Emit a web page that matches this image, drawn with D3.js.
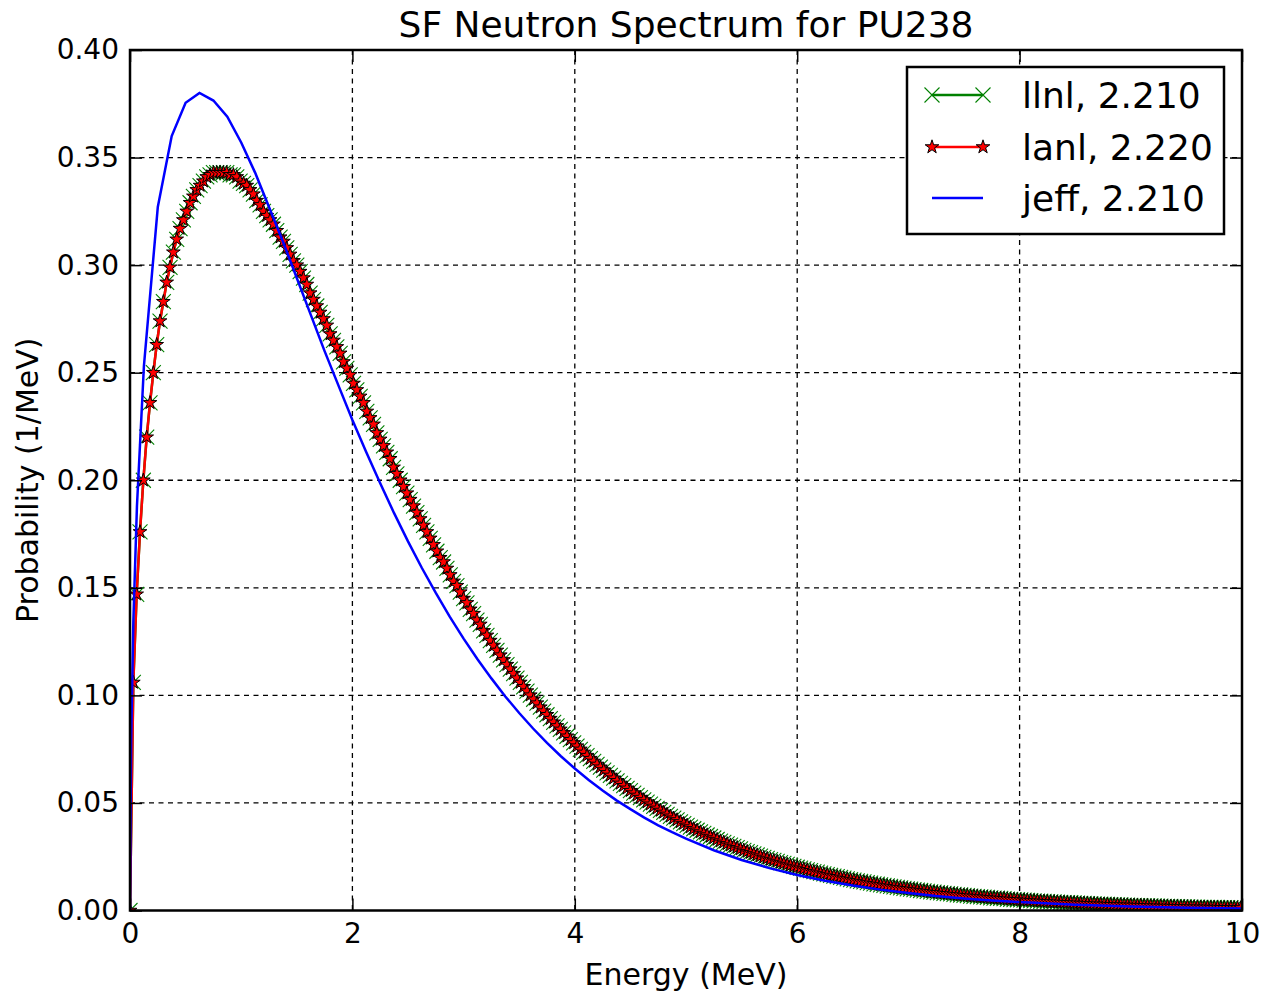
<!DOCTYPE html>
<html>
<head>
<meta charset="utf-8">
<script src="https://cdn.jsdelivr.net/npm/d3@7"></script>
<style>
  body { margin: 0; background: #fff; }
  text { font-family: "DejaVu Sans", sans-serif; }
</style>
</head>
<body>
<div id="chart"></div>
<script>
// energy grid of the llnl / lanl spectra (MeV)
var energy = [
  0, 0.03, 0.06, 0.09, 0.12, 0.15, 0.18, 0.21, 0.24, 0.27,
  0.3, 0.33, 0.36, 0.39, 0.42, 0.45, 0.48, 0.51, 0.54, 0.57,
  0.6, 0.63, 0.66, 0.69, 0.72, 0.75, 0.78, 0.81, 0.84, 0.87,
  0.9, 0.93, 0.96, 0.99, 1.02, 1.05, 1.08, 1.11, 1.14, 1.17,
  1.2, 1.23, 1.26, 1.29, 1.32, 1.35, 1.38, 1.41, 1.44, 1.47,
  1.5, 1.53, 1.56, 1.59, 1.62, 1.65, 1.68, 1.71, 1.74, 1.77,
  1.8, 1.83, 1.86, 1.89, 1.92, 1.95, 1.98, 2.01, 2.04, 2.07,
  2.1, 2.13, 2.16, 2.19, 2.22, 2.25, 2.28, 2.31, 2.34, 2.37,
  2.4, 2.43, 2.46, 2.49, 2.52, 2.55, 2.58, 2.61, 2.64, 2.67,
  2.7, 2.73, 2.76, 2.79, 2.82, 2.85, 2.88, 2.91, 2.94, 2.97,
  3, 3.03, 3.06, 3.09, 3.12, 3.15, 3.18, 3.21, 3.24, 3.27,
  3.3, 3.33, 3.36, 3.39, 3.42, 3.45, 3.48, 3.51, 3.54, 3.57,
  3.6, 3.63, 3.66, 3.69, 3.72, 3.75, 3.78, 3.81, 3.84, 3.87,
  3.9, 3.93, 3.96, 3.99, 4.02, 4.05, 4.08, 4.11, 4.14, 4.17,
  4.2, 4.23, 4.26, 4.29, 4.32, 4.35, 4.38, 4.41, 4.44, 4.47,
  4.5, 4.53, 4.56, 4.59, 4.62, 4.65, 4.68, 4.71, 4.74, 4.77,
  4.8, 4.83, 4.86, 4.89, 4.92, 4.95, 4.98, 5.01, 5.04, 5.07,
  5.1, 5.13, 5.16, 5.19, 5.22, 5.25, 5.28, 5.31, 5.34, 5.37,
  5.4, 5.43, 5.46, 5.49, 5.52, 5.55, 5.58, 5.61, 5.64, 5.67,
  5.7, 5.73, 5.76, 5.79, 5.82, 5.85, 5.88, 5.91, 5.94, 5.97,
  6, 6.03, 6.06, 6.09, 6.12, 6.15, 6.18, 6.21, 6.24, 6.27,
  6.3, 6.33, 6.36, 6.39, 6.42, 6.45, 6.48, 6.51, 6.54, 6.57,
  6.6, 6.63, 6.66, 6.69, 6.72, 6.75, 6.78, 6.81, 6.84, 6.87,
  6.9, 6.93, 6.96, 6.99, 7.02, 7.05, 7.08, 7.11, 7.14, 7.17,
  7.2, 7.23, 7.26, 7.29, 7.32, 7.35, 7.38, 7.41, 7.44, 7.47,
  7.5, 7.53, 7.56, 7.59, 7.62, 7.65, 7.68, 7.71, 7.74, 7.77,
  7.8, 7.83, 7.86, 7.89, 7.92, 7.95, 7.98, 8.01, 8.04, 8.07,
  8.1, 8.13, 8.16, 8.19, 8.22, 8.25, 8.28, 8.31, 8.34, 8.37,
  8.4, 8.43, 8.46, 8.49, 8.52, 8.55, 8.58, 8.61, 8.64, 8.67,
  8.7, 8.73, 8.76, 8.79, 8.82, 8.85, 8.88, 8.91, 8.94, 8.97,
  9, 9.03, 9.06, 9.09, 9.12, 9.15, 9.18, 9.21, 9.24, 9.27,
  9.3, 9.33, 9.36, 9.39, 9.42, 9.45, 9.48, 9.51, 9.54, 9.57,
  9.6, 9.63, 9.66, 9.69, 9.72, 9.75, 9.78, 9.81, 9.84, 9.87,
  9.9, 9.93, 9.96, 9.99
];

// llnl spectrum, probability (1/MeV)
var llnl = [
  0, 0.106, 0.147, 0.176, 0.200, 0.220, 0.236, 0.250, 0.263, 0.274,
  0.283, 0.292, 0.299, 0.306, 0.312, 0.317, 0.321, 0.325, 0.329, 0.332,
  0.335, 0.337, 0.339, 0.341, 0.342, 0.343, 0.343, 0.343, 0.343, 0.343,
  0.342, 0.342, 0.341, 0.339, 0.338, 0.337, 0.335, 0.333, 0.330, 0.328,
  0.325, 0.323, 0.321, 0.319, 0.316, 0.313, 0.311, 0.308, 0.305, 0.302,
  0.300, 0.297, 0.294, 0.291, 0.287, 0.284, 0.281, 0.278, 0.275, 0.272,
  0.268, 0.265, 0.262, 0.259, 0.255, 0.252, 0.249, 0.245, 0.242, 0.239,
  0.236, 0.232, 0.229, 0.226, 0.222, 0.219, 0.216, 0.213, 0.210, 0.206,
  0.203, 0.200, 0.197, 0.194, 0.191, 0.188, 0.185, 0.182, 0.179, 0.176,
  0.173, 0.170, 0.167, 0.164, 0.162, 0.159, 0.156, 0.153, 0.151, 0.148,
  0.145, 0.143, 0.140, 0.138, 0.135, 0.133, 0.130, 0.1279, 0.1255, 0.1232,
  0.1209, 0.1187, 0.1165, 0.1143, 0.1122, 0.1101, 0.1080, 0.1060, 0.1040, 0.1020,
  0.1001, 0.0982, 0.0964, 0.0945, 0.0927, 0.0910, 0.0892, 0.0875, 0.0858, 0.0842,
  0.0826, 0.0810, 0.0794, 0.0779, 0.0764, 0.0749, 0.0735, 0.0720, 0.0706, 0.0693,
  0.0679, 0.0666, 0.0653, 0.0640, 0.0628, 0.0615, 0.0603, 0.0591, 0.0580, 0.0568,
  0.0557, 0.0546, 0.0535, 0.0525, 0.0514, 0.0504, 0.0494, 0.0484, 0.0475, 0.0465,
  0.0456, 0.0447, 0.0438, 0.0429, 0.0421, 0.0412, 0.0404, 0.0396, 0.0388, 0.0380,
  0.0373, 0.0365, 0.0358, 0.0351, 0.0344, 0.0337, 0.0330, 0.0323, 0.0317, 0.0310,
  0.0304, 0.0298, 0.0292, 0.0286, 0.0280, 0.0274, 0.0269, 0.0263, 0.0258, 0.0253,
  0.0247, 0.0242, 0.0237, 0.0233, 0.0228, 0.0223, 0.0219, 0.0214, 0.0210, 0.0205,
  0.0201, 0.0197, 0.0193, 0.0189, 0.0185, 0.0181, 0.0178, 0.0174, 0.0170, 0.0167,
  0.0163, 0.0160, 0.0157, 0.0154, 0.0150, 0.0147, 0.0144, 0.0141, 0.0138, 0.0135,
  0.0133, 0.0130, 0.0127, 0.0124, 0.0122, 0.0119, 0.0117, 0.0114, 0.0112, 0.0110,
  0.0107, 0.0105, 0.0103, 0.0101, 0.0099, 0.0097, 0.0095, 0.0093, 0.0091, 0.0089,
  0.0087, 0.0085, 0.0083, 0.0082, 0.0080, 0.0078, 0.0077, 0.0075, 0.0073, 0.0072,
  0.0070, 0.0069, 0.0067, 0.0066, 0.0065, 0.0063, 0.0062, 0.0061, 0.0059, 0.0058,
  0.0057, 0.0056, 0.0055, 0.0053, 0.0052, 0.0051, 0.0050, 0.0049, 0.0048, 0.0047,
  0.0046, 0.0045, 0.0044, 0.0043, 0.0042, 0.0041, 0.0040, 0.0040, 0.0039, 0.0038,
  0.0037, 0.0036, 0.0036, 0.0035, 0.0034, 0.0033, 0.0033, 0.0032, 0.0031, 0.0031,
  0.0030, 0.0029, 0.0029, 0.0028, 0.0027, 0.0027, 0.0026, 0.0026, 0.0025, 0.0025,
  0.0024, 0.0024, 0.0023, 0.0023, 0.0022, 0.0022, 0.0021, 0.0021, 0.0020, 0.0020,
  0.0019, 0.0019, 0.0019, 0.0018, 0.0018, 0.0017, 0.0017, 0.0017, 0.0016, 0.0016,
  0.0016, 0.0015, 0.0015, 0.0015, 0.0014, 0.0014, 0.0014, 0.0013, 0.0013, 0.0013,
  0.0013, 0.0012, 0.0012, 0.0012
];

// lanl spectrum, probability (1/MeV) - lies on top of llnl in the picture
var lanl = [
  0, 0.106, 0.147, 0.176, 0.200, 0.220, 0.236, 0.250, 0.263, 0.274,
  0.283, 0.292, 0.299, 0.306, 0.312, 0.317, 0.321, 0.325, 0.329, 0.332,
  0.335, 0.337, 0.339, 0.341, 0.342, 0.343, 0.343, 0.343, 0.343, 0.343,
  0.342, 0.342, 0.341, 0.339, 0.338, 0.337, 0.335, 0.333, 0.330, 0.328,
  0.325, 0.323, 0.321, 0.319, 0.316, 0.313, 0.311, 0.308, 0.305, 0.302,
  0.300, 0.297, 0.294, 0.291, 0.287, 0.284, 0.281, 0.278, 0.275, 0.272,
  0.268, 0.265, 0.262, 0.259, 0.255, 0.252, 0.249, 0.245, 0.242, 0.239,
  0.236, 0.232, 0.229, 0.226, 0.222, 0.219, 0.216, 0.213, 0.210, 0.206,
  0.203, 0.200, 0.197, 0.194, 0.191, 0.188, 0.185, 0.182, 0.179, 0.176,
  0.173, 0.170, 0.167, 0.164, 0.162, 0.159, 0.156, 0.153, 0.151, 0.148,
  0.145, 0.143, 0.140, 0.138, 0.135, 0.133, 0.130, 0.1279, 0.1255, 0.1232,
  0.1209, 0.1187, 0.1165, 0.1143, 0.1122, 0.1101, 0.1080, 0.1060, 0.1040, 0.1020,
  0.1001, 0.0982, 0.0964, 0.0945, 0.0927, 0.0910, 0.0892, 0.0875, 0.0858, 0.0842,
  0.0826, 0.0810, 0.0794, 0.0779, 0.0764, 0.0749, 0.0735, 0.0720, 0.0706, 0.0693,
  0.0679, 0.0666, 0.0653, 0.0640, 0.0628, 0.0615, 0.0603, 0.0591, 0.0580, 0.0568,
  0.0557, 0.0546, 0.0535, 0.0525, 0.0514, 0.0504, 0.0494, 0.0484, 0.0475, 0.0465,
  0.0456, 0.0447, 0.0438, 0.0429, 0.0421, 0.0412, 0.0404, 0.0396, 0.0388, 0.0380,
  0.0373, 0.0365, 0.0358, 0.0351, 0.0344, 0.0337, 0.0330, 0.0323, 0.0317, 0.0310,
  0.0304, 0.0298, 0.0292, 0.0286, 0.0280, 0.0274, 0.0269, 0.0263, 0.0258, 0.0253,
  0.0247, 0.0242, 0.0237, 0.0233, 0.0228, 0.0223, 0.0219, 0.0214, 0.0210, 0.0205,
  0.0201, 0.0197, 0.0193, 0.0189, 0.0185, 0.0181, 0.0178, 0.0174, 0.0170, 0.0167,
  0.0163, 0.0160, 0.0157, 0.0154, 0.0150, 0.0147, 0.0144, 0.0141, 0.0138, 0.0135,
  0.0133, 0.0130, 0.0127, 0.0124, 0.0122, 0.0119, 0.0117, 0.0114, 0.0112, 0.0110,
  0.0107, 0.0105, 0.0103, 0.0101, 0.0099, 0.0097, 0.0095, 0.0093, 0.0091, 0.0089,
  0.0087, 0.0085, 0.0083, 0.0082, 0.0080, 0.0078, 0.0077, 0.0075, 0.0073, 0.0072,
  0.0070, 0.0069, 0.0067, 0.0066, 0.0065, 0.0063, 0.0062, 0.0061, 0.0059, 0.0058,
  0.0057, 0.0056, 0.0055, 0.0053, 0.0052, 0.0051, 0.0050, 0.0049, 0.0048, 0.0047,
  0.0046, 0.0045, 0.0044, 0.0043, 0.0042, 0.0041, 0.0040, 0.0040, 0.0039, 0.0038,
  0.0037, 0.0036, 0.0036, 0.0035, 0.0034, 0.0033, 0.0033, 0.0032, 0.0031, 0.0031,
  0.0030, 0.0029, 0.0029, 0.0028, 0.0027, 0.0027, 0.0026, 0.0026, 0.0025, 0.0025,
  0.0024, 0.0024, 0.0023, 0.0023, 0.0022, 0.0022, 0.0021, 0.0021, 0.0020, 0.0020,
  0.0019, 0.0019, 0.0019, 0.0018, 0.0018, 0.0017, 0.0017, 0.0017, 0.0016, 0.0016,
  0.0016, 0.0015, 0.0015, 0.0015, 0.0014, 0.0014, 0.0014, 0.0013, 0.0013, 0.0013,
  0.0013, 0.0012, 0.0012, 0.0012
];

// jeff spectrum on its own (coarser) energy grid
var jeffEnergy = [
  0, 0.01, 0.03, 0.0625, 0.125, 0.25, 0.375, 0.5, 0.625, 0.75, 0.875,
  1, 1.125, 1.25, 1.375, 1.5, 1.625, 1.75, 1.875, 2, 2.125, 2.25, 2.375, 2.5, 2.625, 2.75, 2.875,
  3, 3.125, 3.25, 3.375, 3.5, 3.625, 3.75, 3.875, 4, 4.125, 4.25, 4.375, 4.5, 4.625, 4.75, 4.875,
  5, 5.25, 5.5, 5.75, 6, 6.25, 6.5, 6.75, 7, 7.25, 7.5, 7.75, 8, 8.5, 9, 9.5, 10
];
var jeff = [
  0, 0.078, 0.134, 0.188, 0.253, 0.327, 0.360, 0.3755, 0.380, 0.3765, 0.369,
  0.357, 0.343, 0.327, 0.311, 0.294, 0.277, 0.260, 0.244, 0.228, 0.213, 0.1986, 0.1847, 0.1716, 0.1592, 0.1476, 0.1366,
  0.1264, 0.1168, 0.1079, 0.0995, 0.0918, 0.0846, 0.0779, 0.0717, 0.0660, 0.0607, 0.0558, 0.0512, 0.0471, 0.0432, 0.0396, 0.0364,
  0.0334, 0.0280, 0.0235, 0.0197, 0.0165, 0.0138, 0.0116, 0.0097, 0.0081, 0.0067, 0.0056, 0.0047, 0.0039, 0.0027, 0.0019, 0.0013, 0.0009
];

var xTicks = [0, 2, 4, 6, 8, 10];
var yTicks = [0, 0.05, 0.10, 0.15, 0.20, 0.25, 0.30, 0.35, 0.40];
var legendLabels = ["llnl, 2.210", "lanl, 2.220", "jeff, 2.210"];

var W = 1268, H = 993;
var plot = {left: 130, right: 1242, top: 50, bottom: 910.5};

var svg = d3.select("#chart").append("svg")
  .attr("width", W)
  .attr("height", H)
  .style("display", "block");

svg.append("rect").attr("width", W).attr("height", H).attr("fill", "#fff");

var x = d3.scaleLinear().domain([0, 10]).range([plot.left, plot.right]);
var y = d3.scaleLinear().domain([0, 0.4]).range([plot.bottom, plot.top]);

// grid lines
var grid = svg.append("g").attr("class", "grid")
  .attr("stroke", "#000")
  .attr("stroke-width", 1.3)
  .attr("stroke-dasharray", "5,4.5");

grid.selectAll(".vgrid")
  .data(xTicks.slice(1, -1))
  .enter().append("line")
    .attr("x1", function(d) { return x(d); })
    .attr("x2", function(d) { return x(d); })
    .attr("y1", plot.top)
    .attr("y2", plot.bottom);

grid.selectAll(".hgrid")
  .data(yTicks.slice(1, -1))
  .enter().append("line")
    .attr("x1", plot.left)
    .attr("x2", plot.right)
    .attr("y1", function(d) { return y(d); })
    .attr("y2", function(d) { return y(d); });

// clip the data to the axes box
svg.append("clipPath").attr("id", "clip")
  .append("rect")
    .attr("x", plot.left)
    .attr("y", plot.top)
    .attr("width", plot.right - plot.left)
    .attr("height", plot.bottom - plot.top);

var data = svg.append("g").attr("clip-path", "url(#clip)");

var line = d3.line()
  .x(function(d) { return x(d[0]); })
  .y(function(d) { return y(d[1]); });

var llnlPts = d3.zip(energy, llnl);
var lanlPts = d3.zip(energy, lanl);
var jeffPts = d3.zip(jeffEnergy, jeff);

var crossPath = "M-7.5,-7.5L7.5,7.5M-7.5,7.5L7.5,-7.5";
var starPath = d3.symbol().type(d3.symbolStar).size(58)();

// llnl: green line with x markers
data.append("path")
  .datum(llnlPts)
  .attr("d", line)
  .attr("fill", "none")
  .attr("stroke", "#008000")
  .attr("stroke-width", 2.5);

data.append("g").selectAll("path")
  .data(llnlPts)
  .enter().append("path")
    .attr("transform", function(d) { return "translate(" + x(d[0]) + "," + y(d[1]) + ")"; })
    .attr("d", crossPath)
    .attr("fill", "none")
    .attr("stroke", "#008000")
    .attr("stroke-width", 1.1);

// lanl: red line with star markers
data.append("path")
  .datum(lanlPts)
  .attr("d", line)
  .attr("fill", "none")
  .attr("stroke", "#ff0000")
  .attr("stroke-width", 2.5);

data.append("g").selectAll("path")
  .data(lanlPts)
  .enter().append("path")
    .attr("transform", function(d) { return "translate(" + x(d[0]) + "," + y(d[1]) + ")"; })
    .attr("d", starPath)
    .attr("fill", "#ff0000")
    .attr("stroke", "#000")
    .attr("stroke-width", 1);

// jeff: plain blue line
data.append("path")
  .datum(jeffPts)
  .attr("d", line)
  .attr("fill", "none")
  .attr("stroke", "#0000ff")
  .attr("stroke-width", 2.5);

// axes, ticks point inwards on all four sides
var tickLen = 12;

svg.append("g")
  .attr("transform", "translate(0," + plot.bottom + ")")
  .call(d3.axisBottom(x).tickValues(xTicks).tickFormat(d3.format("d"))
    .tickSize(-tickLen).tickPadding(13));

svg.append("g")
  .attr("transform", "translate(" + plot.left + ",0)")
  .call(d3.axisLeft(y).tickValues(yTicks).tickFormat(d3.format(".2f"))
    .tickSize(-tickLen).tickPadding(11));

svg.append("g")
  .attr("transform", "translate(0," + plot.top + ")")
  .call(d3.axisTop(x).tickValues(xTicks).tickFormat("").tickSize(-tickLen));

svg.append("g")
  .attr("transform", "translate(" + plot.right + ",0)")
  .call(d3.axisRight(y).tickValues(yTicks).tickFormat("").tickSize(-tickLen));

svg.selectAll(".domain").remove();
svg.selectAll(".tick line").attr("stroke", "#000").attr("stroke-width", 1.5);
svg.selectAll(".tick text")
  .attr("fill", "#000")
  .style("font-family", "'DejaVu Sans', sans-serif")
  .style("font-size", "28px");

// spines
svg.append("rect")
  .attr("x", plot.left)
  .attr("y", plot.top)
  .attr("width", plot.right - plot.left)
  .attr("height", plot.bottom - plot.top)
  .attr("fill", "none")
  .attr("stroke", "#000")
  .attr("stroke-width", 2.5);

// titles
svg.append("text")
  .attr("x", (plot.left + plot.right) / 2)
  .attr("y", 37)
  .attr("text-anchor", "middle")
  .style("font-size", "36px")
  .text("SF Neutron Spectrum for PU238");

svg.append("text")
  .attr("x", (plot.left + plot.right) / 2)
  .attr("y", 985)
  .attr("text-anchor", "middle")
  .style("font-size", "30px")
  .text("Energy (MeV)");

svg.append("text")
  .attr("transform", "translate(38," + ((plot.top + plot.bottom) / 2) + ") rotate(-90)")
  .attr("text-anchor", "middle")
  .style("font-size", "30px")
  .text("Probability (1/MeV)");

// legend
var legend = svg.append("g").attr("class", "legend");

legend.append("rect")
  .attr("x", 907)
  .attr("y", 67)
  .attr("width", 317)
  .attr("height", 167)
  .attr("fill", "#fff")
  .attr("stroke", "#000")
  .attr("stroke-width", 2.5);

var rowY = [95, 147, 198];
var colors = ["#008000", "#ff0000", "#0000ff"];

legend.selectAll(".lline")
  .data(legendLabels)
  .enter().append("line")
    .attr("x1", 932)
    .attr("x2", 983)
    .attr("y1", function(d, i) { return rowY[i]; })
    .attr("y2", function(d, i) { return rowY[i]; })
    .attr("stroke", function(d, i) { return colors[i]; })
    .attr("stroke-width", 2.5);

[932, 983].forEach(function(px) {
  legend.append("path")
    .attr("transform", "translate(" + px + "," + rowY[0] + ")")
    .attr("d", crossPath)
    .attr("fill", "none")
    .attr("stroke", "#008000")
    .attr("stroke-width", 1.1);
  legend.append("path")
    .attr("transform", "translate(" + px + "," + rowY[1] + ")")
    .attr("d", starPath)
    .attr("fill", "#ff0000")
    .attr("stroke", "#000")
    .attr("stroke-width", 1);
});

legend.selectAll(".ltext")
  .data(legendLabels)
  .enter().append("text")
    .attr("x", 1022)
    .attr("y", function(d, i) { return rowY[i] + 13; })
    .style("font-size", "36px")
    .text(function(d) { return d; });
</script>
</body>
</html>
